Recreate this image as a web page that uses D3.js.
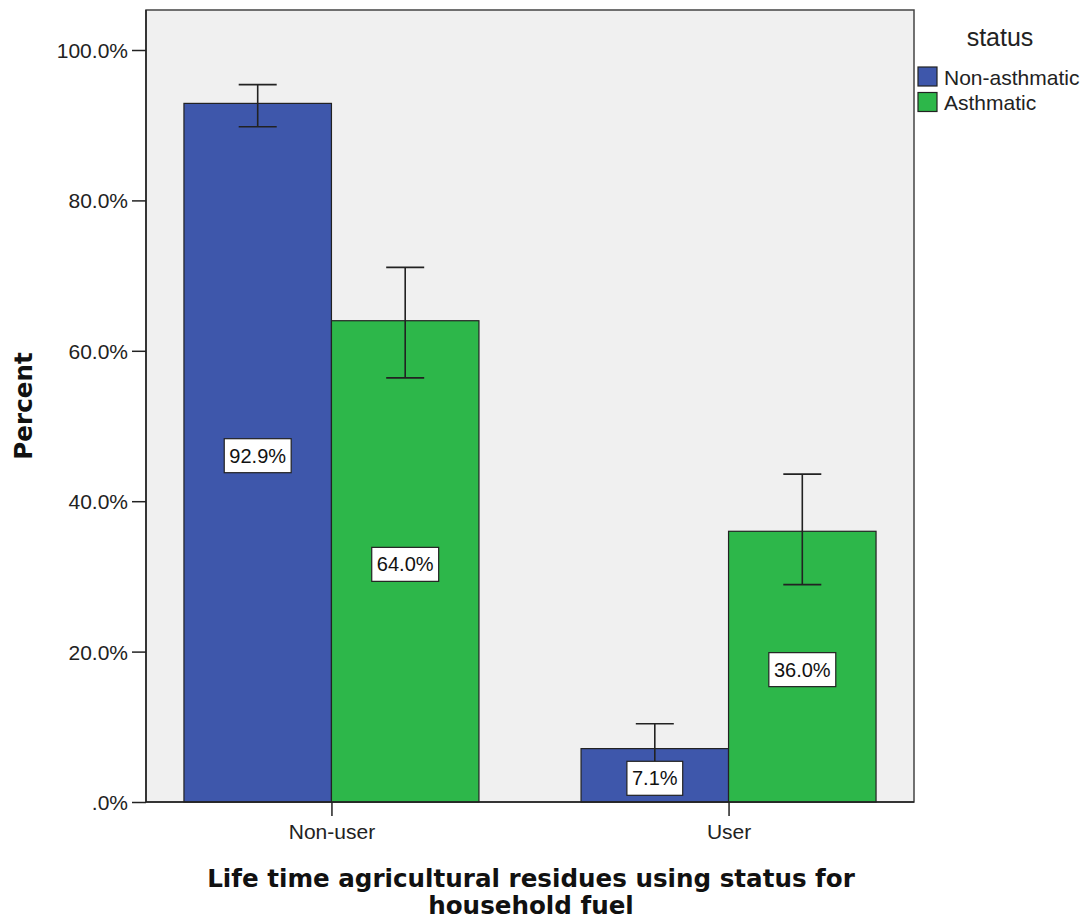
<!DOCTYPE html>
<html><head><meta charset="utf-8">
<script src="https://cdn.jsdelivr.net/npm/d3@7"></script>
<style>body{margin:0;background:#fff;} text{font-family:"Liberation Sans",Arial,sans-serif;} text.ttl{font-family:"DejaVu Sans",Verdana,sans-serif;font-weight:bold;}</style>
</head><body>
<svg id="c" width="1084" height="921"></svg>
<script>
const categories = ["Non-user", "User"];
const seriesNames = ["Non-asthmatic", "Asthmatic"];
const values = [[92.9, 64.0], [7.1, 36.0]];        // [category][series]
const errLow = [[89.8, 56.4], [4.6, 28.9]];
const errHigh = [[95.4, 71.1], [10.4, 43.6]];
const yTicks = [0, 20, 40, 60, 80, 100];
const yTickLabels = [".0%", "20.0%", "40.0%", "60.0%", "80.0%", "100.0%"];
const colors = ["#3e57ab", "#2db74a"];

const svg = d3.select("#c");
const L = 146, R = 914, T = 10, B = 802;
const y = d3.scaleLinear().domain([0, 100]).range([B, 50]);
const x = d3.scalePoint().domain(categories).range([L, R]).padding(0.467);
const bw = 147.5;
const xs = d3.scaleBand().domain(seriesNames).range([-bw, bw]);

svg.append("rect").attr("x", L).attr("y", T).attr("width", R - L).attr("height", B - T)
  .attr("fill", "#f0f0f0").attr("stroke", "#444").attr("stroke-width", 1.5);

// bars
categories.forEach((c, ci) => {
  seriesNames.forEach((s, si) => {
    svg.append("rect").attr("x", x(c) + xs(s)).attr("y", y(values[ci][si]))
      .attr("width", xs.bandwidth()).attr("height", B - y(values[ci][si]))
      .attr("fill", colors[si]).attr("stroke", "#222").attr("stroke-width", 1.2);
  });
});

// axes
const ya = d3.axisLeft(y).tickValues(yTicks).tickFormat((d, i) => yTickLabels[i]).tickSize(14).tickSizeOuter(0);
const gy = svg.append("g").attr("transform", `translate(${L},0)`).call(ya);
gy.select(".domain").remove();
gy.selectAll("line").attr("stroke", "#222").attr("stroke-width", 1.5);
gy.selectAll("text").attr("font-size", 21).attr("fill", "#222").attr("x", -18).attr("dy", "0.36em");
svg.append("line").attr("x1", L).attr("x2", L).attr("y1", T).attr("y2", B).attr("stroke", "#222").attr("stroke-width", 1.5);
svg.append("line").attr("x1", L).attr("x2", R).attr("y1", B).attr("y2", B).attr("stroke", "#222").attr("stroke-width", 1.5);

const xa = d3.axisBottom(x).tickSize(14).tickSizeOuter(0);
const gx = svg.append("g").attr("transform", `translate(0,${B})`).call(xa);
gx.select(".domain").remove();
gx.selectAll("line").attr("stroke", "#222").attr("stroke-width", 1.5);
gx.selectAll("text").attr("font-size", 21).attr("fill", "#222").attr("y", 37).attr("dy", 0);

// error bars
const cap = 19;
categories.forEach((c, ci) => {
  seriesNames.forEach((s, si) => {
    const cx = x(c) + xs(s) + xs.bandwidth() / 2;
    const g = svg.append("g").attr("stroke", "#222").attr("stroke-width", 1.6);
    g.append("line").attr("x1", cx).attr("x2", cx).attr("y1", y(errLow[ci][si])).attr("y2", y(errHigh[ci][si]));
    g.append("line").attr("x1", cx - cap).attr("x2", cx + cap).attr("y1", y(errLow[ci][si])).attr("y2", y(errLow[ci][si]));
    g.append("line").attr("x1", cx - cap).attr("x2", cx + cap).attr("y1", y(errHigh[ci][si])).attr("y2", y(errHigh[ci][si]));
  });
});

// data labels
categories.forEach((c, ci) => {
  seriesNames.forEach((s, si) => {
    const cx = x(c) + xs(s) + xs.bandwidth() / 2;
    const cy = (y(values[ci][si]) + B) / 2 + 3;
    const t = values[ci][si].toFixed(1) + "%";
    const g = svg.append("g");
    const txt = g.append("text").attr("x", cx).attr("y", cy).attr("text-anchor", "middle")
      .attr("dominant-baseline", "central").attr("font-size", 20).attr("fill", "#111").text(t);
    const bb = txt.node().getBBox();
    g.insert("rect", "text").attr("x", cx - bb.width / 2 - 5).attr("y", cy - 17)
      .attr("width", bb.width + 10).attr("height", 34).attr("fill", "#fff").attr("stroke", "#222").attr("stroke-width", 1.2);
  });
});

// axis titles
svg.append("text").attr("class", "ttl").attr("transform", `translate(32,406) rotate(-90)`).attr("text-anchor", "middle")
  .attr("font-size", 24.6).attr("fill", "#111").text("Percent");
svg.append("text").attr("class", "ttl").attr("x", 531).attr("y", 887).attr("text-anchor", "middle")
  .attr("font-size", 24.6).attr("fill", "#111").text("Life time agricultural residues using status for");
svg.append("text").attr("class", "ttl").attr("x", 531).attr("y", 914).attr("text-anchor", "middle")
  .attr("font-size", 24.6).attr("fill", "#111").text("household fuel");

// legend
svg.append("text").attr("x", 1000).attr("y", 46).attr("text-anchor", "middle").attr("font-size", 25).attr("fill", "#222").text("status");
seriesNames.forEach((s, i) => {
  const yy = 67 + i * 25.5;
  svg.append("rect").attr("x", 918).attr("y", yy).attr("width", 19).attr("height", 19)
    .attr("fill", colors[i]).attr("stroke", "#222").attr("stroke-width", 1.2);
  svg.append("text").attr("x", 944).attr("y", yy + 10).attr("dominant-baseline", "central")
    .attr("font-size", 21).attr("fill", "#222").text(s);
});
</script>
</body></html>
